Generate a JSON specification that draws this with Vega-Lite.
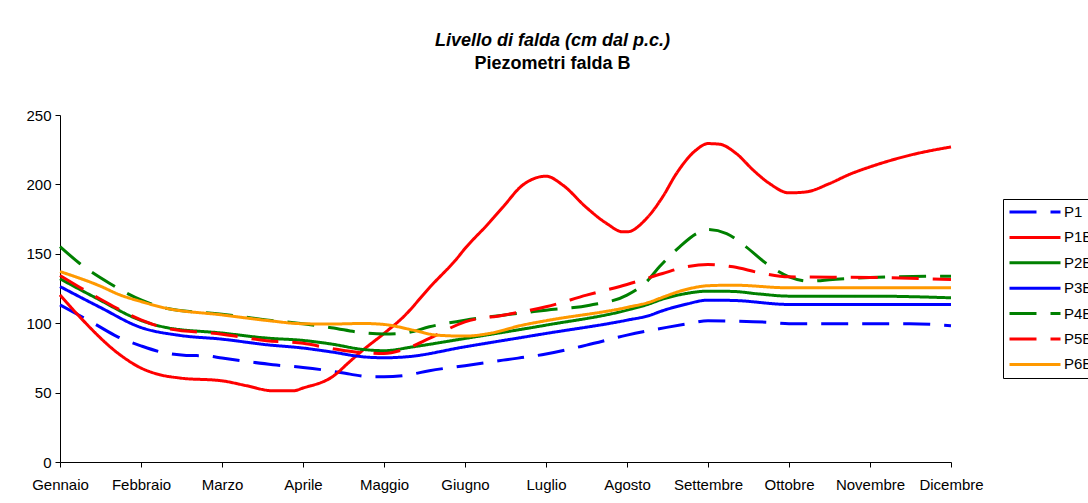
{
  "$schema": "https://vega.github.io/schema/vega-lite/v6.json",
  "width": 891,
  "height": 347,
  "autosize": {"type": "none"},
  "padding": {"left": 60, "top": 115, "right": 137, "bottom": 41},
  "background": "white",
  "config": {"view": {"stroke": null}, "font": "Liberation Sans"},
  "title": {
    "text": "Livello di falda (cm dal p.c.)",
    "subtitle": "Piezometri falda B",
    "anchor": "middle",
    "frame": "group",
    "dx": 47,
    "offset": 35,
    "font": "Liberation Sans",
    "fontSize": 18,
    "fontStyle": "italic",
    "fontWeight": "bold",
    "color": "black",
    "subtitleFont": "Liberation Sans",
    "subtitleFontSize": 18,
    "subtitleFontWeight": "bold",
    "subtitleColor": "black",
    "subtitlePadding": 5
  },
  "data": {
    "values": [
      {"s": "P1", "m": 0, "v": 113.2}, {"s": "P1", "m": 0.45, "v": 98.8}, {"s": "P1", "m": 0.7, "v": 90.5}, {"s": "P1", "m": 1, "v": 83.7}, {"s": "P1", "m": 1.27, "v": 78.9}, {"s": "P1", "m": 1.56, "v": 76.8}, {"s": "P1", "m": 1.81, "v": 76.5}, {"s": "P1", "m": 2, "v": 74.9}, {"s": "P1", "m": 2.3, "v": 72.5}, {"s": "P1", "m": 2.63, "v": 70.1}, {"s": "P1", "m": 3, "v": 68.1}, {"s": "P1", "m": 3.29, "v": 66}, {"s": "P1", "m": 3.58, "v": 63.3}, {"s": "P1", "m": 3.83, "v": 61.4}, {"s": "P1", "m": 4, "v": 61.4}, {"s": "P1", "m": 4.28, "v": 62.6}, {"s": "P1", "m": 4.56, "v": 65.8}, {"s": "P1", "m": 5, "v": 69.4}, {"s": "P1", "m": 5.47, "v": 73.4}, {"s": "P1", "m": 6, "v": 77.8}, {"s": "P1", "m": 6.5, "v": 84.2}, {"s": "P1", "m": 7, "v": 91.4}, {"s": "P1", "m": 7.49, "v": 97}, {"s": "P1", "m": 7.77, "v": 99.8}, {"s": "P1", "m": 8, "v": 101.8}, {"s": "P1", "m": 8.31, "v": 101.5}, {"s": "P1", "m": 8.76, "v": 100.6}, {"s": "P1", "m": 9, "v": 99.6}, {"s": "P1", "m": 10, "v": 99.6}, {"s": "P1", "m": 10.49, "v": 99.6}, {"s": "P1", "m": 11, "v": 98.2},

      {"s": "P1B", "m": 0, "v": 120.4}, {"s": "P1B", "m": 0.24, "v": 104.8}, {"s": "P1B", "m": 0.74, "v": 77.3}, {"s": "P1B", "m": 1, "v": 67.7}, {"s": "P1B", "m": 1.23, "v": 62.9}, {"s": "P1B", "m": 1.48, "v": 60.5}, {"s": "P1B", "m": 2, "v": 58.5}, {"s": "P1B", "m": 2.3, "v": 55}, {"s": "P1B", "m": 2.63, "v": 51.3}, {"s": "P1B", "m": 2.88, "v": 51.3}, {"s": "P1B", "m": 3, "v": 53.3}, {"s": "P1B", "m": 3.37, "v": 61.7}, {"s": "P1B", "m": 3.58, "v": 72.5}, {"s": "P1B", "m": 3.74, "v": 80.6}, {"s": "P1B", "m": 4, "v": 92.6}, {"s": "P1B", "m": 4.24, "v": 104.6}, {"s": "P1B", "m": 4.57, "v": 126.2}, {"s": "P1B", "m": 4.9, "v": 146.6}, {"s": "P1B", "m": 5, "v": 153.8}, {"s": "P1B", "m": 5.27, "v": 170.6}, {"s": "P1B", "m": 5.47, "v": 183.8}, {"s": "P1B", "m": 5.71, "v": 199.4}, {"s": "P1B", "m": 6, "v": 205.9}, {"s": "P1B", "m": 6.21, "v": 199.4}, {"s": "P1B", "m": 6.49, "v": 183.8}, {"s": "P1B", "m": 6.75, "v": 171.8}, {"s": "P1B", "m": 6.95, "v": 165.8}, {"s": "P1B", "m": 7, "v": 165.8}, {"s": "P1B", "m": 7.24, "v": 175.4}, {"s": "P1B", "m": 7.44, "v": 191}, {"s": "P1B", "m": 7.61, "v": 207.8}, {"s": "P1B", "m": 7.85, "v": 224.6}, {"s": "P1B", "m": 8, "v": 229.4}, {"s": "P1B", "m": 8.14, "v": 229}, {"s": "P1B", "m": 8.35, "v": 222.2}, {"s": "P1B", "m": 8.56, "v": 210.2}, {"s": "P1B", "m": 8.76, "v": 200.6}, {"s": "P1B", "m": 9, "v": 193.9}, {"s": "P1B", "m": 9.21, "v": 194.6}, {"s": "P1B", "m": 9.5, "v": 200.6}, {"s": "P1B", "m": 9.75, "v": 207.3}, {"s": "P1B", "m": 10, "v": 212.6}, {"s": "P1B", "m": 10.49, "v": 221}, {"s": "P1B", "m": 11, "v": 227},

      {"s": "P2B", "m": 0, "v": 132}, {"s": "P2B", "m": 0.45, "v": 118}, {"s": "P2B", "m": 1, "v": 102}, {"s": "P2B", "m": 1.31, "v": 96.9}, {"s": "P2B", "m": 2, "v": 92.9}, {"s": "P2B", "m": 2.55, "v": 89.3}, {"s": "P2B", "m": 3, "v": 87.6}, {"s": "P2B", "m": 3.35, "v": 85}, {"s": "P2B", "m": 3.74, "v": 81.1}, {"s": "P2B", "m": 4, "v": 80.2}, {"s": "P2B", "m": 4.36, "v": 83}, {"s": "P2B", "m": 5, "v": 89}, {"s": "P2B", "m": 6, "v": 98.6}, {"s": "P2B", "m": 7, "v": 109.4}, {"s": "P2B", "m": 7.29, "v": 114.2}, {"s": "P2B", "m": 7.4, "v": 116.6}, {"s": "P2B", "m": 7.73, "v": 121.4}, {"s": "P2B", "m": 8, "v": 123.1}, {"s": "P2B", "m": 8.3, "v": 122.9}, {"s": "P2B", "m": 8.64, "v": 121}, {"s": "P2B", "m": 9, "v": 119.5}, {"s": "P2B", "m": 10, "v": 119.5}, {"s": "P2B", "m": 11, "v": 118.3},

      {"s": "P3B", "m": 0, "v": 126.4}, {"s": "P3B", "m": 0.49, "v": 111.6}, {"s": "P3B", "m": 1, "v": 96.9}, {"s": "P3B", "m": 1.48, "v": 91.2}, {"s": "P3B", "m": 2, "v": 88.5}, {"s": "P3B", "m": 2.55, "v": 84.5}, {"s": "P3B", "m": 3, "v": 82.1}, {"s": "P3B", "m": 3.35, "v": 79.3}, {"s": "P3B", "m": 3.74, "v": 75.8}, {"s": "P3B", "m": 4, "v": 75.1}, {"s": "P3B", "m": 4.28, "v": 75.8}, {"s": "P3B", "m": 5, "v": 83}, {"s": "P3B", "m": 6, "v": 92.6}, {"s": "P3B", "m": 7, "v": 102.2}, {"s": "P3B", "m": 7.29, "v": 105.8}, {"s": "P3B", "m": 7.4, "v": 108.2}, {"s": "P3B", "m": 7.73, "v": 113.7}, {"s": "P3B", "m": 8, "v": 116.6}, {"s": "P3B", "m": 8.31, "v": 116.4}, {"s": "P3B", "m": 9, "v": 113.5}, {"s": "P3B", "m": 10, "v": 113.5}, {"s": "P3B", "m": 11, "v": 113.5},

      {"s": "P4B", "m": 0, "v": 155.2}, {"s": "P4B", "m": 0.24, "v": 143.2}, {"s": "P4B", "m": 0.61, "v": 128.8}, {"s": "P4B", "m": 1, "v": 116.8}, {"s": "P4B", "m": 1.31, "v": 110.8}, {"s": "P4B", "m": 2, "v": 106.5}, {"s": "P4B", "m": 2.55, "v": 102.4}, {"s": "P4B", "m": 3, "v": 99.6}, {"s": "P4B", "m": 3.35, "v": 96.8}, {"s": "P4B", "m": 3.74, "v": 93.1}, {"s": "P4B", "m": 4, "v": 92.2}, {"s": "P4B", "m": 4.28, "v": 93.1}, {"s": "P4B", "m": 4.56, "v": 97.4}, {"s": "P4B", "m": 5, "v": 102.2}, {"s": "P4B", "m": 5.47, "v": 105.8}, {"s": "P4B", "m": 6, "v": 109.4}, {"s": "P4B", "m": 6.54, "v": 113}, {"s": "P4B", "m": 7, "v": 120.2}, {"s": "P4B", "m": 7.24, "v": 129.8}, {"s": "P4B", "m": 7.4, "v": 140.6}, {"s": "P4B", "m": 7.65, "v": 155}, {"s": "P4B", "m": 7.86, "v": 164.6}, {"s": "P4B", "m": 8, "v": 167.5}, {"s": "P4B", "m": 8.23, "v": 164.6}, {"s": "P4B", "m": 8.47, "v": 155}, {"s": "P4B", "m": 8.72, "v": 143}, {"s": "P4B", "m": 9, "v": 133.4}, {"s": "P4B", "m": 9.26, "v": 130.3}, {"s": "P4B", "m": 9.54, "v": 131.5}, {"s": "P4B", "m": 10, "v": 133}, {"s": "P4B", "m": 11, "v": 133.9},

      {"s": "P5B", "m": 0, "v": 134.4}, {"s": "P5B", "m": 0.49, "v": 117.6}, {"s": "P5B", "m": 1, "v": 102.4}, {"s": "P5B", "m": 1.31, "v": 96.4}, {"s": "P5B", "m": 2, "v": 92.1}, {"s": "P5B", "m": 2.55, "v": 87.4}, {"s": "P5B", "m": 3, "v": 85.5}, {"s": "P5B", "m": 3.35, "v": 81.8}, {"s": "P5B", "m": 3.74, "v": 78.7}, {"s": "P5B", "m": 4, "v": 78.2}, {"s": "P5B", "m": 4.28, "v": 81.8}, {"s": "P5B", "m": 4.56, "v": 89}, {"s": "P5B", "m": 5, "v": 101}, {"s": "P5B", "m": 5.47, "v": 105.8}, {"s": "P5B", "m": 6, "v": 111.8}, {"s": "P5B", "m": 6.5, "v": 120.2}, {"s": "P5B", "m": 7, "v": 127.9}, {"s": "P5B", "m": 7.44, "v": 135.8}, {"s": "P5B", "m": 7.73, "v": 140.6}, {"s": "P5B", "m": 8, "v": 142.3}, {"s": "P5B", "m": 8.31, "v": 140.6}, {"s": "P5B", "m": 8.64, "v": 136.3}, {"s": "P5B", "m": 9, "v": 133.4}, {"s": "P5B", "m": 10, "v": 133}, {"s": "P5B", "m": 11, "v": 131.5},

      {"s": "P6B", "m": 0, "v": 137.2}, {"s": "P6B", "m": 0.49, "v": 126.9}, {"s": "P6B", "m": 0.74, "v": 120.4}, {"s": "P6B", "m": 1, "v": 115.6}, {"s": "P6B", "m": 1.31, "v": 110.8}, {"s": "P6B", "m": 2, "v": 106}, {"s": "P6B", "m": 2.55, "v": 102}, {"s": "P6B", "m": 3, "v": 99.6}, {"s": "P6B", "m": 3.35, "v": 99.4}, {"s": "P6B", "m": 3.74, "v": 99.8}, {"s": "P6B", "m": 4, "v": 99.1}, {"s": "P6B", "m": 4.36, "v": 95}, {"s": "P6B", "m": 4.65, "v": 91.4}, {"s": "P6B", "m": 5, "v": 90.7}, {"s": "P6B", "m": 5.3, "v": 92.6}, {"s": "P6B", "m": 5.71, "v": 98.6}, {"s": "P6B", "m": 6, "v": 101.8}, {"s": "P6B", "m": 7, "v": 111.4}, {"s": "P6B", "m": 7.29, "v": 115.4}, {"s": "P6B", "m": 7.4, "v": 117.8}, {"s": "P6B", "m": 7.73, "v": 124.3}, {"s": "P6B", "m": 8, "v": 127}, {"s": "P6B", "m": 8.31, "v": 127.4}, {"s": "P6B", "m": 9, "v": 125.5}, {"s": "P6B", "m": 10, "v": 125.5}, {"s": "P6B", "m": 11, "v": 125.5}
    ]
  },
  "mark": {"type": "line", "interpolate": "monotone", "strokeWidth": 3, "clip": false},
  "encoding": {
    "x": {
      "field": "m",
      "type": "quantitative",
      "scale": {"domain": [0, 11], "nice": false, "zero": false},
      "axis": {
        "values": [0, 1, 2, 3, 4, 5, 6, 7, 8, 9, 10, 11],
        "labelExpr": "['Gennaio','Febbraio','Marzo','Aprile','Maggio','Giugno','Luglio','Agosto','Settembre','Ottobre','Novembre','Dicembre'][datum.value]",
        "title": null,
        "grid": false,
        "domainColor": "black",
        "tickColor": "black",
        "tickSize": 5,
        "labelPadding": 10,
        "labelFont": "Liberation Sans",
        "labelFontSize": 15,
        "labelColor": "black",
        "labelFlush": false,
        "labelOverlap": false
      }
    },
    "y": {
      "field": "v",
      "type": "quantitative",
      "scale": {"domain": [0, 250], "nice": false},
      "axis": {
        "values": [0, 50, 100, 150, 200, 250],
        "title": null,
        "grid": false,
        "domainColor": "black",
        "tickColor": "black",
        "tickSize": 5,
        "labelPadding": 4,
        "labelFont": "Liberation Sans",
        "labelFontSize": 15,
        "labelColor": "black"
      }
    },
    "color": {
      "field": "s",
      "type": "nominal",
      "scale": {
        "domain": ["P1", "P1B", "P2B", "P3B", "P4B", "P5B", "P6B"],
        "range": ["#0000FF", "#FF0000", "#008000", "#0000FF", "#008000", "#FF0000", "#FF9900"]
      },
      "legend": {
        "title": null,
        "orient": "none",
        "legendX": 943,
        "legendY": 84,
        "strokeColor": "black",
        "fillColor": "white",
        "padding": 5,
        "symbolType": "stroke",
        "symbolSize": 2601,
        "symbolStrokeWidth": 3,
        "clipHeight": 16,
        "rowPadding": 9.4,
        "labelFont": "Liberation Sans",
        "labelFontSize": 15,
        "labelColor": "black",
        "labelOffset": 2
      }
    },
    "strokeDash": {
      "field": "s",
      "type": "nominal",
      "scale": {
        "domain": ["P1", "P1B", "P2B", "P3B", "P4B", "P5B", "P6B"],
        "range": [[27, 14], [1, 0], [1, 0], [1, 0], [27, 14], [27, 14], [1, 0]]
      },
      "legend": {
        "title": null,
        "orient": "none",
        "legendX": 943,
        "legendY": 84,
        "strokeColor": "black",
        "fillColor": "white",
        "padding": 5,
        "symbolType": "stroke",
        "symbolSize": 2601,
        "symbolStrokeWidth": 3,
        "clipHeight": 16,
        "rowPadding": 9.4,
        "labelFont": "Liberation Sans",
        "labelFontSize": 15,
        "labelColor": "black",
        "labelOffset": 2
      }
    }
  }
}
